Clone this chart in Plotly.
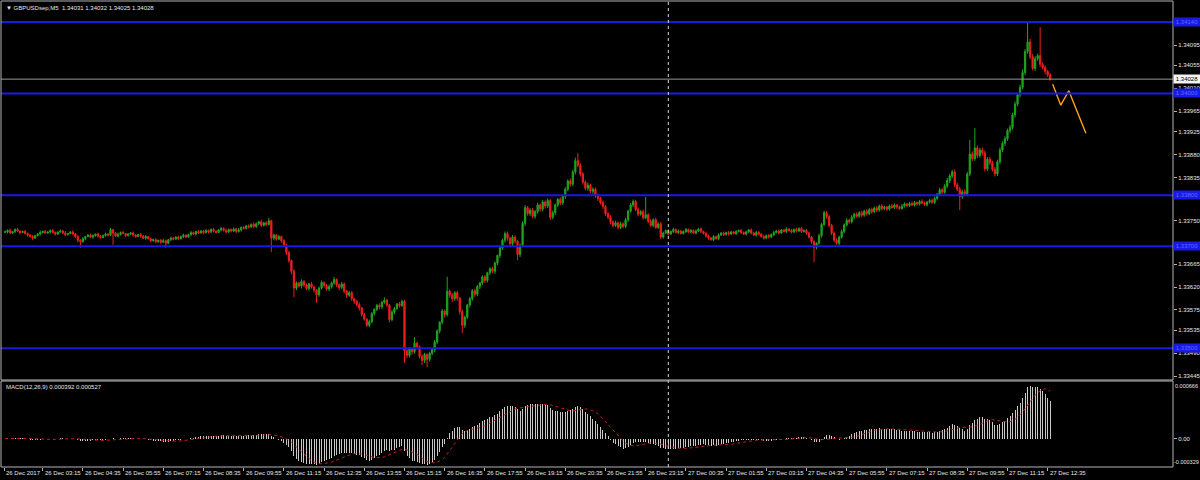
import numpy as np
import pandas as pd
import plotly.graph_objects as go

# ---------------- data ----------------
chart_title = "\u25bc GBPUSDsep,M5\u00a0\u00a01.34031 1.34032 1.34025 1.34028"
macd_title = "MACD(12,26,9) 0.000392 0.000527"

bar_start = "2017-12-26 02:00"          # first M5 bar
price_base = 1.33000                      # closes below are in points above this
first_open = 728

close_pts = [
    728, 731, 726, 729, 733, 730, 727, 729, 725, 722,
    719, 716, 721, 724, 727, 729, 726, 728, 731, 727,
    724, 728, 730, 726, 723, 725, 728, 724, 719, 712,
    709, 715, 719, 722, 718, 721, 724, 720, 717, 721,
    724, 722, 733, 726, 720, 723, 727, 725, 721, 724,
    726, 722, 719, 723, 720, 716, 719, 715, 711, 713,
    709, 712, 708, 711, 706, 713, 716, 714, 718, 715,
    719, 722, 718, 723, 727, 724, 729, 726, 730, 727,
    731, 728, 733, 730, 727, 732, 735, 731, 728, 733,
    730, 734, 729, 732, 737, 735, 740, 738, 743, 739,
    744, 748, 741, 746, 743, 750, 716, 722, 714, 719,
    711, 703, 688, 672, 651, 618, 628, 622, 631, 624,
    617, 626, 620, 614, 605, 618, 629, 623, 616, 621,
    628, 635, 624, 619, 626, 612, 604, 609, 597, 592,
    586, 579, 566, 557, 545, 552, 568, 576, 584, 581,
    590, 594, 585, 556, 571, 578, 587, 584, 592, 495,
    486, 499, 493, 510, 503, 484, 476, 488, 478, 490,
    497, 512, 534, 551, 573, 566, 612, 604, 597, 609,
    598, 572, 545, 561, 585, 597, 613, 606, 621, 628,
    640, 633, 648, 656, 651, 667, 682, 697, 712, 725,
    716, 705, 718, 710, 684, 702, 745, 776, 764, 771,
    759, 768, 781, 773, 787, 779, 790, 757, 766, 781,
    792, 785, 798, 812, 828, 822, 846, 868, 859, 842,
    826, 814, 820, 808, 812, 799, 794, 786, 778, 764,
    757, 748, 741, 746, 737, 744, 739, 752, 769, 781,
    788, 772, 763, 768, 756, 762, 749, 741, 752, 737,
    744, 718, 726, 731, 724, 729, 733, 727, 730, 725,
    729, 733, 728, 731, 726, 730, 734, 729, 725, 720,
    716, 713, 719, 715, 722, 726, 723, 727, 724, 728,
    725, 729, 731, 727, 724, 728, 732, 726, 722, 727,
    724, 719, 716, 721, 718, 723, 727, 730, 726, 732,
    729, 734, 731, 728, 733, 730, 735, 729, 731, 726,
    718, 709, 698, 706, 721, 743, 766, 758, 741, 726,
    712, 706, 718, 729, 742, 751, 748, 757, 763, 759,
    766, 761, 769, 764, 772, 768, 775, 771, 779, 774,
    777, 773, 779, 776, 781, 777, 774, 779, 783, 780,
    784, 781, 786, 783, 788, 785, 782, 787, 790, 786,
    794, 802, 811, 806, 818, 829, 838, 846, 821, 812,
    798, 807, 803, 842, 881, 872, 893, 878, 889, 883,
    852, 871, 864, 851, 842, 866, 889, 902, 911, 927,
    933, 958, 979, 997, 1012, 1041, 1082, 1101, 1072, 1049,
    1068, 1074, 1057, 1051, 1043, 1036, 1028,
]

# wick above max(open, close) and below min(open, close), in points
upper_wick = [
    3, 2, 4, 1, 2, 3, 1, 2, 3, 2,
    2, 3, 1, 2, 4, 2, 3, 1, 2, 3,
    2, 1, 3, 2, 4, 1, 2, 3, 2, 3,
    2, 3, 1, 2, 3, 2, 1, 3, 2, 2,
    3, 2, 3, 1, 2, 4, 2, 3, 1, 2,
    2, 3, 2, 1, 3, 2, 3, 1, 2, 2,
    3, 1, 2, 3, 2, 1, 3, 2, 2, 3,
    2, 3, 1, 2, 3, 2, 1, 3, 2, 2,
    3, 2, 2, 3, 1, 2, 3, 2, 4, 2,
    2, 3, 2, 4, 2, 3, 2, 3, 2, 4,
    3, 2, 4, 2, 3, 6, 2, 3, 2, 3,
    2, 3, 2, 3, 2, 4, 3, 2, 4, 3,
    3, 2, 4, 3, 2, 3, 4, 2, 3, 4,
    3, 5, 2, 3, 4, 3, 2, 4, 3, 2,
    3, 4, 2, 3, 2, 4, 3, 2, 3, 4,
    3, 6, 3, 2, 4, 3, 2, 4, 3, 3,
    4, 3, 2, 12, 3, 2, 4, 3, 2, 3,
    3, 4, 3, 2, 4, 3, 28, 3, 4, 3,
    4, 3, 4, 3, 2, 4, 3, 4, 3, 2,
    3, 4, 2, 3, 4, 3, 2, 4, 3, 4,
    4, 3, 4, 3, 2, 3, 4, 5, 3, 4,
    4, 3, 5, 3, 4, 3, 4, 3, 4, 3,
    3, 4, 3, 4, 3, 5, 4, 6, 15, 4,
    4, 3, 5, 3, 4, 3, 4, 3, 4, 3,
    3, 4, 3, 4, 3, 4, 3, 4, 3, 4,
    4, 3, 4, 3, 4, 35, 3, 4, 3, 4,
    3, 4, 3, 2, 3, 2, 3, 2, 3, 2,
    2, 3, 2, 3, 2, 3, 2, 3, 2, 3,
    3, 2, 3, 2, 3, 2, 3, 2, 3, 2,
    2, 3, 2, 3, 2, 3, 2, 3, 2, 3,
    3, 2, 3, 2, 3, 2, 3, 2, 3, 2,
    2, 3, 2, 3, 2, 3, 2, 3, 2, 3,
    3, 2, 3, 2, 4, 3, 4, 3, 4, 3,
    3, 4, 3, 4, 3, 4, 3, 4, 3, 4,
    3, 4, 3, 4, 3, 4, 3, 4, 3, 4,
    3, 2, 3, 4, 3, 2, 3, 4, 3, 2,
    3, 4, 3, 2, 3, 4, 3, 2, 3, 4,
    4, 3, 4, 3, 4, 5, 4, 4, 5, 4,
    5, 4, 5, 4, 28, 5, 39, 5, 4, 5,
    5, 4, 5, 4, 5, 4, 5, 4, 5, 4,
    5, 4, 5, 4, 5, 6, 5, 37, 6, 5,
    5, 4, 56, 5, 4, 3, 4,
]
lower_wick = [
    2, 3, 1, 2, 3, 2, 4, 1, 2, 3,
    2, 4, 1, 2, 3, 2, 1, 2, 3, 2,
    3, 2, 1, 2, 3, 2, 1, 2, 3, 4,
    12, 2, 3, 1, 2, 3, 2, 3, 2, 1,
    2, 3, 2, 23, 2, 3, 2, 1, 3, 2,
    2, 3, 2, 1, 3, 2, 3, 2, 3, 2,
    3, 2, 3, 1, 9, 2, 3, 2, 1, 3,
    2, 3, 2, 1, 3, 2, 3, 2, 1, 3,
    2, 3, 2, 3, 2, 1, 3, 2, 3, 2,
    3, 2, 3, 2, 3, 2, 2, 3, 2, 3,
    3, 2, 3, 2, 3, 2, 27, 4, 3, 2,
    4, 3, 5, 4, 6, 18, 4, 3, 5, 4,
    3, 4, 3, 5, 16, 4, 3, 4, 3, 4,
    4, 3, 4, 5, 3, 4, 5, 3, 4, 5,
    4, 5, 4, 3, 3, 4, 3, 4, 3, 5,
    4, 3, 4, 5, 3, 4, 3, 4, 3, 24,
    5, 4, 6, 4, 5, 4, 9, 5, 15, 4,
    4, 5, 4, 5, 4, 6, 4, 5, 6, 4,
    5, 6, 15, 5, 4, 5, 4, 5, 4, 5,
    4, 5, 4, 5, 4, 5, 4, 5, 4, 5,
    5, 4, 5, 4, 11, 5, 4, 5, 4, 5,
    4, 5, 4, 5, 4, 5, 4, 5, 4, 5,
    4, 5, 4, 5, 4, 5, 4, 5, 4, 5,
    5, 4, 5, 4, 5, 4, 5, 4, 5, 4,
    4, 5, 4, 3, 4, 3, 4, 3, 4, 3,
    4, 3, 4, 3, 4, 3, 4, 3, 4, 3,
    3, 4, 3, 2, 3, 2, 3, 2, 3, 2,
    2, 3, 2, 3, 2, 3, 2, 3, 2, 3,
    3, 2, 3, 2, 3, 2, 3, 2, 3, 2,
    2, 3, 2, 3, 2, 3, 2, 3, 2, 3,
    3, 2, 3, 2, 3, 2, 3, 2, 3, 2,
    2, 3, 2, 3, 2, 3, 2, 3, 2, 3,
    3, 4, 29, 4, 3, 4, 3, 4, 3, 4,
    4, 3, 4, 3, 4, 3, 4, 3, 4, 3,
    3, 4, 3, 4, 3, 4, 3, 4, 3, 4,
    3, 4, 3, 2, 3, 4, 3, 2, 3, 4,
    3, 2, 3, 4, 3, 2, 3, 4, 3, 2,
    3, 4, 3, 4, 3, 4, 5, 4, 5, 4,
    27, 5, 4, 5, 4, 5, 4, 5, 4, 5,
    5, 4, 5, 4, 5, 4, 5, 4, 5, 4,
    5, 4, 5, 4, 5, 4, 5, 4, 5, 4,
    5, 4, 5, 4, 5, 4, 3,
]

level_prices = [1.34140, 1.34000, 1.33800, 1.33700, 1.33500]   # blue horizontal lines
bid_price = 1.34028
projection_times = ["2017-12-27 12:45", "2017-12-27 13:01", "2017-12-27 13:17", "2017-12-27 13:51"]
projection_prices = [1.34018, 1.33977, 1.34005, 1.33922]
day_separator = "2017-12-27 00:00"

# visible price-scale labels (the ones hidden under the blue level boxes are omitted)
price_tick_values = [1.34095, 1.34055, 1.34010, 1.33965, 1.33925, 1.33880,
                     1.33835, 1.33750, 1.33665, 1.33620, 1.33575,
                     1.33535, 1.33490, 1.33445]
macd_max_label = "0.000666"
macd_min_label = "-0.000329"
macd_range = [-0.000329, 0.000666]

x_label_times = [
    "2017-12-26 01:58", "2017-12-26 03:15", "2017-12-26 04:35", "2017-12-26 05:55",
    "2017-12-26 07:15", "2017-12-26 08:35", "2017-12-26 09:55", "2017-12-26 11:15",
    "2017-12-26 12:35", "2017-12-26 13:55", "2017-12-26 15:15", "2017-12-26 16:35",
    "2017-12-26 17:55", "2017-12-26 19:15", "2017-12-26 20:35", "2017-12-26 21:55",
    "2017-12-26 23:15", "2017-12-27 00:35", "2017-12-27 01:55", "2017-12-27 03:15",
    "2017-12-27 04:35", "2017-12-27 05:55", "2017-12-27 07:15", "2017-12-27 08:35",
    "2017-12-27 09:55", "2017-12-27 11:15", "2017-12-27 12:35",
]
x_label_text = [
    "26 Dec 2017", "26 Dec 03:15", "26 Dec 04:35", "26 Dec 05:55", "26 Dec 07:15",
    "26 Dec 08:35", "26 Dec 09:55", "26 Dec 11:15", "26 Dec 12:35", "26 Dec 13:55",
    "26 Dec 15:15", "26 Dec 16:35", "26 Dec 17:55", "26 Dec 19:15", "26 Dec 20:35",
    "26 Dec 21:55", "26 Dec 23:15", "27 Dec 00:35", "27 Dec 01:55", "27 Dec 03:15",
    "27 Dec 04:35", "27 Dec 05:55", "27 Dec 07:15", "27 Dec 08:35", "27 Dec 09:55",
    "27 Dec 11:15", "27 Dec 12:35",
]

# ---------------- build OHLC ----------------
n = len(close_pts)
times = pd.date_range(bar_start, periods=n, freq="5min")
c = np.array(close_pts, dtype=float)
o = np.concatenate([[first_open], c[:-1]])
h = np.maximum(o, c) + np.array(upper_wick[:n])
l = np.minimum(o, c) - np.array(lower_wick[:n])
to_price = lambda p: price_base + p / 100000.0
O, H, L, C = to_price(o), to_price(h), to_price(l), to_price(c)

ema12 = pd.Series(C).ewm(span=12, adjust=False).mean()
ema26 = pd.Series(C).ewm(span=26, adjust=False).mean()
macd_main = (ema12 - ema26).values
macd_signal = pd.Series(macd_main).rolling(9, min_periods=1).mean().values

# ---------------- geometry ----------------
W, Hh = 1200, 480
m_l, m_r, m_t, m_b = 1, 27, 1, 13
plot_h = Hh - m_t - m_b
price_bottom_px, macd_top_px = 380, 381
price_dom = [(Hh - m_b - price_bottom_px) / plot_h, 1.0]
macd_dom = [0.0, (Hh - m_b - macd_top_px) / plot_h]

px_per_bar = 2.5125
first_bar_px = 5.0
bar = pd.Timedelta(minutes=5)
t0 = times[0]
x_range = [t0 + bar * ((m_l - first_bar_px) / px_per_bar),
           t0 + bar * ((W - m_r - first_bar_px) / px_per_bar)]
# price scale: 1.34095 at y=45, 50960 px per 1.0
px_per_price = 50960.0
ref_price, ref_y = 1.34095, 45.0
y_range = [ref_price - (price_bottom_px - ref_y) / px_per_price,
           ref_price + (ref_y - m_t) / px_per_price]

GRAY = "#b4b4b4"
TXT = "#e6e6e6"
FONT = "Liberation Sans"
FS = 6

fig = go.Figure()
fig.add_trace(go.Candlestick(
    x=times, open=O, high=H, low=L, close=C, xaxis="x2", yaxis="y",
    increasing=dict(line=dict(color="#1fa51f", width=1), fillcolor="#1fa51f"),
    decreasing=dict(line=dict(color="#f01e1e", width=1), fillcolor="#f01e1e"),
    whiskerwidth=0, showlegend=False, hoverinfo="skip"))
fig.add_trace(go.Scatter(
    x=pd.to_datetime(projection_times), y=projection_prices, xaxis="x2", yaxis="y",
    mode="lines", line=dict(color="#ffa21a", width=1.4), showlegend=False, hoverinfo="skip"))
fig.add_trace(go.Bar(
    x=times, y=macd_main, xaxis="x", yaxis="y2", width=120000,
    marker=dict(color="#c8c8c8", line=dict(width=0)), showlegend=False, hoverinfo="skip"))
fig.add_trace(go.Scatter(
    x=times, y=macd_signal, xaxis="x", yaxis="y2", mode="lines",
    line=dict(color="#c81e1e", width=1, dash="dot"), showlegend=False, hoverinfo="skip"))

shapes = []
for lv in level_prices:
    shapes.append(dict(type="line", xref="paper", x0=0, x1=1, yref="y", y0=lv, y1=lv,
                       line=dict(color="#1a1ae6", width=2), layer="above"))
shapes.append(dict(type="line", xref="paper", x0=0, x1=1, yref="y", y0=bid_price, y1=bid_price,
                   line=dict(color="#9a9a9a", width=1), layer="above"))
shapes.append(dict(type="line", xref="x", x0=pd.Timestamp(day_separator), x1=pd.Timestamp(day_separator),
                   yref="paper", y0=0, y1=1, line=dict(color="#d8d8d8", width=1, dash="dot"), layer="above"))
shapes.append(dict(type="rect", xref="paper", yref="paper", x0=0, x1=1, y0=price_dom[0], y1=1,
                   line=dict(color=GRAY, width=1), layer="above"))
shapes.append(dict(type="rect", xref="paper", yref="paper", x0=0, x1=1, y0=0, y1=macd_dom[1],
                   line=dict(color=GRAY, width=1), layer="above"))

ann = []
ann.append(dict(text=chart_title, xref="paper", yref="paper", x=0, y=1, xanchor="left", yanchor="top",
                xshift=3, yshift=-2, showarrow=False, font=dict(family=FONT, size=FS, color=TXT)))
ann.append(dict(text=macd_title, xref="paper", yref="paper", x=0, y=macd_dom[1], xanchor="left",
                yanchor="top", xshift=3, yshift=-1, showarrow=False, font=dict(family=FONT, size=FS, color=TXT)))
for t, s in zip(x_label_times, x_label_text):
    ann.append(dict(text=s, xref="x", yref="paper", x=pd.Timestamp(t), y=0, xanchor="left", yanchor="top",
                    xshift=0, yshift=-1, showarrow=False, font=dict(family=FONT, size=FS, color=TXT)))
for lv in level_prices:
    ann.append(dict(text=f"{lv:.5f}", xref="paper", yref="y", x=1, y=lv, xanchor="left", yanchor="middle",
                    xshift=0, showarrow=False, bgcolor="#1a1ae6", borderpad=1, width=24,
                    font=dict(family=FONT, size=FS, color="#5a6cff")))
ann.append(dict(text=f"{bid_price:.5f}", xref="paper", yref="y", x=1, y=bid_price, xanchor="left",
                yanchor="middle", xshift=0, showarrow=False, bgcolor="#f4f4f4", borderpad=1, width=24,
                font=dict(family=FONT, size=FS, color="#000000")))
ann.append(dict(text=macd_max_label, xref="paper", yref="paper", x=1, y=macd_dom[1], xanchor="left",
                yanchor="top", xshift=1, yshift=-1, showarrow=False, borderpad=0,
                font=dict(family=FONT, size=5.5, color=TXT)))
ann.append(dict(text=macd_min_label, xref="paper", yref="paper", x=1, y=0, xanchor="left",
                yanchor="bottom", xshift=0, yshift=1, showarrow=False, borderpad=0,
                font=dict(family=FONT, size=5.5, color=TXT)))

fig.update_layout(
    width=W, height=Hh, margin=dict(l=m_l, r=m_r, t=m_t, b=m_b, autoexpand=False),
    paper_bgcolor="#000000", plot_bgcolor="#000000",
    font=dict(family=FONT, size=FS, color=TXT),
    showlegend=False, hovermode=False, bargap=0,
    shapes=shapes, annotations=ann,
    xaxis=dict(domain=[0, 1], anchor="y2", type="date", range=x_range, showgrid=False, zeroline=False,
               showline=False, ticks="outside", ticklen=3, tickcolor=GRAY, tickwidth=1,
               tickvals=pd.to_datetime(x_label_times), showticklabels=False, automargin=False),
    xaxis2=dict(domain=[0, 1], anchor="y", type="date", matches="x", showgrid=False, zeroline=False,
                showline=False, showticklabels=False, ticks="", rangeslider=dict(visible=False),
                automargin=False),
    yaxis=dict(domain=price_dom, anchor="x2", side="right", range=y_range, showgrid=False,
               zeroline=False, showline=False, ticks="outside", ticklen=3, tickcolor=GRAY,
               tickvals=price_tick_values, ticktext=[f"{v:.5f}" for v in price_tick_values],
               ticklabelstandoff=0, automargin=False, tickfont=dict(family=FONT, size=FS, color=TXT)),
    yaxis2=dict(domain=macd_dom, anchor="x", side="right", range=macd_range, showgrid=False,
                zeroline=False, showline=False, ticks="outside", ticklen=3, tickcolor=GRAY,
                tickvals=[0], ticktext=["0.00"], ticklabelstandoff=0, automargin=False,
                tickfont=dict(family=FONT, size=FS, color=TXT)),
)

fig.write_html(
    "out.html",
    config={"displayModeBar": False, "staticPlot": True},
    post_script="document.body.style.margin='0';document.body.style.padding='0';"
                "document.body.style.background='#000000';"
                "document.documentElement.style.background='#000000';",
)
